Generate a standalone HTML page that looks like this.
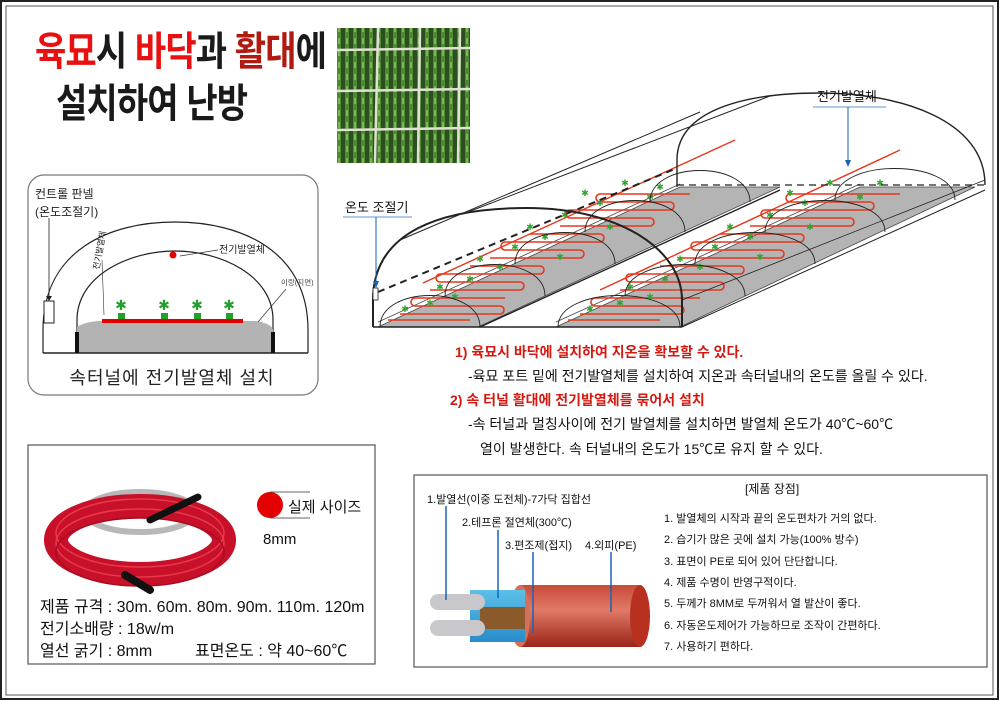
<!DOCTYPE html>
<html><head><meta charset="utf-8">
<style>
body{margin:0;background:#fff;}
#c{position:relative;width:1000px;height:701px;overflow:hidden;background:#fff;font-family:"Liberation Sans","Noto Sans CJK KR",sans-serif;}
.t{position:absolute;white-space:nowrap;}
.ti{transform:scaleX(0.85);transform-origin:0 0;}
</style></head><body><div id="c">
<svg width="1000" height="701" style="position:absolute;left:0;top:0" font-family="Liberation Sans, Noto Sans CJK KR, sans-serif">
<rect x="1" y="1" width="997" height="698" fill="none" stroke="#222" stroke-width="2"/>
<rect x="6" y="6" width="987" height="689" fill="none" stroke="#555" stroke-width="1"/>

<defs>
<pattern id="pl" width="8" height="12" patternUnits="userSpaceOnUse">
<rect width="8" height="12" fill="#2c4f22"/>
<rect x="1" width="4" height="12" fill="#4e8a32"/>
<rect x="2" y="2" width="2" height="6" fill="#7fb455"/>
</pattern>
</defs>
<rect x="337" y="28" width="133" height="135" fill="url(#pl)"/>
<g stroke="#dfe2d2" stroke-width="2.5">
<line x1="337" y1="50" x2="470" y2="48"/><line x1="337" y1="91" x2="470" y2="89"/><line x1="337" y1="130" x2="470" y2="128"/>
<line x1="378" y1="28" x2="375" y2="163"/><line x1="420" y1="28" x2="418" y2="163"/><line x1="460" y1="28" x2="458" y2="163"/>
</g>

<rect x="28" y="175" width="290" height="220" rx="16" fill="#fff" stroke="#777" stroke-width="1.2"/>
<path d="M43,353 L43,330 C43,250 110,222 175,222 C240,222 308,250 308,330 L308,353" fill="none" stroke="#222" stroke-width="1.2"/>
<path d="M77,353 L77,320 C77,275 130,251 175,251 C220,251 273,275 273,320 L273,353" fill="none" stroke="#222" stroke-width="1.2"/>
<path d="M77,353 L77,327 C85,322 95,321 102,321 L255,321 C265,322 273,326 273,330 L273,353 Z" fill="#b3b3b3"/>
<line x1="43" y1="353" x2="308" y2="353" stroke="#222" stroke-width="1.5"/>
<rect x="75" y="332" width="4" height="21" fill="#111"/><rect x="271" y="332" width="4" height="21" fill="#111"/>
<rect x="102" y="319" width="141" height="4" fill="#e30000"/>
<g fill="#22a02a">
<rect x="118" y="313" width="7" height="6"/><rect x="161" y="313" width="7" height="6"/><rect x="194" y="313" width="7" height="6"/><rect x="226" y="313" width="7" height="6"/>
<text x="121" y="310" font-size="14" text-anchor="middle">✱</text><text x="164" y="310" font-size="14" text-anchor="middle">✱</text><text x="197" y="310" font-size="14" text-anchor="middle">✱</text><text x="229" y="310" font-size="14" text-anchor="middle">✱</text>
</g>
<circle cx="173" cy="255" r="3.5" fill="#e30000"/>
<line x1="180" y1="256" x2="218" y2="250" stroke="#333" stroke-width="0.7"/>
<rect x="44" y="301" width="10" height="22" fill="#fff" stroke="#222"/>
<line x1="49" y1="218" x2="49" y2="298" stroke="#222" stroke-width="0.8"/>
<polygon points="46,296 52,296 49,301" fill="#222"/>
<line x1="102" y1="260" x2="104" y2="315" stroke="#333" stroke-width="0.6"/>
<line x1="286" y1="289" x2="258" y2="322" stroke="#333" stroke-width="0.7"/>
<text x="35" y="198" font-size="12" fill="#222">컨트롤 판넬</text>
<text x="35" y="216" font-size="12" fill="#222">(온도조절기)</text>
<text x="219" y="253" font-size="10" fill="#222">전기발열체</text>
<text x="281" y="285" font-size="7.5" fill="#444">이랑(지면)</text>
<text x="0" y="0" font-size="8.5" fill="#222" transform="translate(99,270) rotate(-80)">전기발열체</text>
<text x="172" y="384" font-size="18" fill="#222" text-anchor="middle" letter-spacing="1">속터널에 전기발열체 설치</text>

<polygon points="378,327 478,327 780,187 680,187" fill="#b4b4b4" stroke="#444" stroke-width="0.8"/>
<line x1="378" y1="322" x2="680" y2="184" stroke="#444" stroke-width="0.8"/>
<polygon points="556,327 680,327 975,187 860,187" fill="#b4b4b4" stroke="#444" stroke-width="0.8"/>
<line x1="556" y1="322" x2="860" y2="184" stroke="#444" stroke-width="0.8"/>
<g fill="none" stroke="#e8361a" stroke-width="1.6">
<path d="M388,320 L470,320 M400,314 L500,314 a3,3 0 0 0 0,-8 L415,306 a3,3 0 0 1 0,-8 L505,298"/>
<path d="M430,290 L520,290 a3,3 0 0 0 0,-8 L440,282 a3,3 0 0 1 0,-8 L540,274 a3,3 0 0 0 0,-8 L470,266"/>
<path d="M490,258 L580,258 a3,3 0 0 0 0,-8 L505,250 a3,3 0 0 1 0,-8 L600,242 a3,3 0 0 0 0,-8 L530,234"/>
<path d="M560,226 L650,226 a3,3 0 0 0 0,-8 L570,218 a3,3 0 0 1 0,-8 L670,210 a3,3 0 0 0 0,-8 L600,202 a3,3 0 0 1 0,-8 L690,194"/>
<path d="M568,320 L660,320 M580,314 L680,314 a3,3 0 0 0 0,-8 L595,306 a3,3 0 0 1 0,-8 L700,298"/>
<path d="M620,290 L720,290 a3,3 0 0 0 0,-8 L630,282 a3,3 0 0 1 0,-8 L740,274 a3,3 0 0 0 0,-8 L660,266"/>
<path d="M680,258 L780,258 a3,3 0 0 0 0,-8 L695,250 a3,3 0 0 1 0,-8 L800,242 a3,3 0 0 0 0,-8 L720,234"/>
<path d="M750,226 L850,226 a3,3 0 0 0 0,-8 L765,218 a3,3 0 0 1 0,-8 L870,210 a3,3 0 0 0 0,-8 L790,202 a3,3 0 0 1 0,-8 L900,194"/>
</g>
<line x1="423" y1="283" x2="735" y2="140" stroke="#e8361a" stroke-width="1.4"/>
<line x1="600" y1="290" x2="900" y2="150" stroke="#e8361a" stroke-width="1.4"/>
<g fill="#2aa82a" font-size="9" text-anchor="middle">
<text x="405" y="312">✱</text><text x="430" y="306">✱</text><text x="455" y="300">✱</text><text x="440" y="290">✱</text><text x="470" y="282">✱</text><text x="500" y="270">✱</text><text x="480" y="262">✱</text><text x="515" y="250">✱</text><text x="545" y="240">✱</text><text x="530" y="230">✱</text><text x="565" y="218">✱</text><text x="600" y="206">✱</text><text x="585" y="196">✱</text><text x="625" y="186">✱</text><text x="650" y="200">✱</text><text x="560" y="260">✱</text><text x="610" y="230">✱</text><text x="660" y="190">✱</text>
<text x="590" y="312">✱</text><text x="620" y="306">✱</text><text x="650" y="300">✱</text><text x="630" y="290">✱</text><text x="665" y="282">✱</text><text x="700" y="270">✱</text><text x="680" y="262">✱</text><text x="715" y="250">✱</text><text x="750" y="240">✱</text><text x="730" y="230">✱</text><text x="770" y="218">✱</text><text x="805" y="206">✱</text><text x="790" y="196">✱</text><text x="830" y="186">✱</text><text x="860" y="200">✱</text><text x="760" y="260">✱</text><text x="810" y="230">✱</text><text x="880" y="186">✱</text>
</g>
<g fill="none" stroke="#222" stroke-width="0.9">
<path d="M380,327 C380,285 480,285 480,327"/>
<path d="M445,296 C445,254 545,254 545,296"/>
<path d="M515,264 C515,222 615,222 615,264"/>
<path d="M585,232 C585,190 685,190 685,232"/>
<path d="M650,202 C650,160 750,160 750,202"/>
<path d="M558,327 C558,285 680,285 680,327"/>
<path d="M625,296 C625,254 745,254 745,296"/>
<path d="M695,264 C695,222 815,222 815,264"/>
<path d="M765,232 C765,190 885,190 885,232"/>
<path d="M835,200 C835,158 955,158 955,200"/>
</g>
<g fill="none" stroke="#222">
<path d="M677,187 L677,160 C677,112 740,93 820,93 C900,93 985,120 985,185" stroke-width="1.4"/>
<line x1="400" y1="240" x2="700" y2="112" stroke-width="1"/>
<line x1="468" y1="212" x2="770" y2="96" stroke-width="1"/>
<line x1="682" y1="327" x2="985" y2="190" stroke-width="1"/>
<line x1="480" y1="327" x2="780" y2="190" stroke-width="1.4"/>
<line x1="682" y1="300" x2="985" y2="180" stroke-width="0.8"/>
<line x1="378" y1="292" x2="677" y2="168" stroke-width="2" stroke-dasharray="7,5"/>
<line x1="677" y1="185" x2="985" y2="185" stroke-width="1.2" stroke-dasharray="7,5"/>
<path d="M373,327 L373,300 C373,232 440,208 527,208 C620,208 682,250 682,300 L682,327" stroke-width="2"/>
<line x1="373" y1="327" x2="682" y2="327" stroke-width="1.5"/>
</g>
<rect x="373" y="288" width="5" height="12" fill="#fff" stroke="#222" stroke-width="0.8"/>
<text x="345" y="212" font-size="13" fill="#111">온도 조절기</text>
<line x1="343" y1="217" x2="412" y2="217" stroke="#5a9ad6" stroke-width="1"/>
<line x1="376" y1="217" x2="376" y2="283" stroke="#1a62b8" stroke-width="1"/>
<polygon points="373,281 379,281 376,288" fill="#1a62b8"/>
<text x="817" y="101" font-size="13" fill="#111">전기발열체</text>
<line x1="813" y1="107" x2="886" y2="107" stroke="#5a9ad6" stroke-width="1"/>
<line x1="848" y1="107" x2="848" y2="162" stroke="#1a62b8" stroke-width="1"/>
<polygon points="845,160 851,160 848,167" fill="#1a62b8"/>

<rect x="28" y="445" width="347" height="219" fill="#fff" stroke="#555" stroke-width="1.2"/>
<g fill="none">
<ellipse cx="140" cy="512" rx="55" ry="20" stroke="#b8b8b8" stroke-width="6"/>
<ellipse cx="140" cy="540" rx="84" ry="34" stroke="#c8102a" stroke-width="24"/>
<ellipse cx="140" cy="543" rx="84" ry="34" stroke="#e83a4a" stroke-width="1.5"/>
<ellipse cx="140" cy="533" rx="84" ry="34" stroke="#e83a4a" stroke-width="1.5"/>
<ellipse cx="140" cy="552" rx="84" ry="34" stroke="#a80c20" stroke-width="1.5"/>
</g>
<path d="M150,520 L198,497" stroke="#111" stroke-width="7" stroke-linecap="round"/>
<path d="M125,575 L150,590" stroke="#111" stroke-width="8" stroke-linecap="round"/>
<circle cx="270" cy="505" r="13" fill="#e30000"/>
<line x1="270" y1="492" x2="310" y2="492" stroke="#333" stroke-width="0.7"/>
<line x1="270" y1="518" x2="310" y2="518" stroke="#333" stroke-width="0.7"/>
<text x="288" y="512" font-size="15" fill="#111">실제 사이즈</text>
<text x="263" y="544" font-size="15" fill="#111">8mm</text>
<text x="40" y="612" font-size="16" fill="#111">제품 규격 : 30m. 60m. 80m. 90m. 110m. 120m</text>
<text x="40" y="634" font-size="16" fill="#111">전기소배량 : 18w/m</text>
<text x="40" y="656" font-size="16" fill="#111">열선 굵기 : 8mm</text>
<text x="195" y="656" font-size="16" fill="#111">표면온도  : 약 40~60℃</text>

<rect x="414" y="475" width="573" height="192" fill="#fff" stroke="#555" stroke-width="1.2"/>
<defs>
<linearGradient id="rg" x1="0" y1="0" x2="0" y2="1"><stop offset="0" stop-color="#c84a3a"/><stop offset="0.4" stop-color="#e07a66"/><stop offset="1" stop-color="#9a2418"/></linearGradient>
<linearGradient id="bg" x1="0" y1="0" x2="0" y2="1"><stop offset="0" stop-color="#5cc0ea"/><stop offset="1" stop-color="#2a8cc8"/></linearGradient>
</defs>
<rect x="520" y="585" width="120" height="62" fill="url(#rg)"/>
<ellipse cx="640" cy="616" rx="10" ry="31" fill="#b83020"/>
<ellipse cx="520" cy="616" rx="10" ry="31" fill="#d2705c"/>
<rect x="470" y="590" width="55" height="52" fill="url(#bg)"/>
<rect x="480" y="607" width="45" height="22" fill="#8a5a2a"/>
<rect x="430" y="594" width="55" height="16" rx="8" fill="#c8c8cc"/>
<rect x="430" y="620" width="55" height="16" rx="8" fill="#c8c8cc"/>
<g stroke="#1a62b8" stroke-width="1.5">
<line x1="446" y1="506" x2="446" y2="600"/><line x1="498" y1="530" x2="498" y2="598"/><line x1="533" y1="552" x2="533" y2="633"/><line x1="611" y1="552" x2="611" y2="612"/>
</g>
<g font-size="11" fill="#111">
<text x="427" y="503">1.발열선(이중 도전체)-7가닥 집합선</text>
<text x="462" y="526">2.테프론 절연체(300℃)</text>
<text x="505" y="549">3.편조제(접지)</text>
<text x="585" y="549">4.외피(PE)</text>
<text x="745" y="493" font-size="12">[제품 장점]</text>
<text x="664" y="522">1. 발열체의 시작과 끝의 온도편차가 거의 없다.</text>
<text x="664" y="543">2. 습기가 많은 곳에 설치 가능(100% 방수)</text>
<text x="664" y="565">3. 표면이 PE로 되어 있어 단단합니다.</text>
<text x="664" y="586">4. 제품 수명이 반영구적이다.</text>
<text x="664" y="607">5. 두께가 8MM로 두꺼워서 열 발산이 좋다.</text>
<text x="664" y="629">6. 자동온도제어가 가능하므로 조작이 간편하다.</text>
<text x="664" y="650">7. 사용하기 편하다.</text>
</g>
</svg>

<div class="t ti" style="left:35px;top:28px;font-size:40px;font-weight:bold;line-height:48px;letter-spacing:-1px;"><span style="color:#e81010">육묘</span><span style="color:#1a1a1a">시 </span><span style="color:#e81010">바닥</span><span style="color:#1a1a1a">과 </span><span style="color:#b01a10">활대</span><span style="color:#1a1a1a">에</span></div>
<div class="t ti" style="left:56px;top:80px;font-size:40px;font-weight:bold;line-height:48px;color:#1a1a1a;letter-spacing:-1px;">설치하여 난방</div>

<div class="t" style="left:455px;top:342px;font-size:14px;font-weight:bold;color:#d41a10;">1) 육묘시 바닥에 설치하여 지온을 확보할 수 있다.</div>
<div class="t" style="left:468px;top:366px;font-size:14px;color:#111;">-육묘 포트 밑에 전기발열체를 설치하여 지온과 속터널내의 온도를 올릴 수 있다.</div>
<div class="t" style="left:450px;top:390px;font-size:14px;font-weight:bold;color:#d41a10;">2) 속 터널 활대에 전기발열체를 묶어서 설치</div>
<div class="t" style="left:468px;top:414px;font-size:14px;color:#111;">-속 터널과 멀칭사이에 전기 발열체를 설치하면 발열체 온도가 40℃~60℃</div>
<div class="t" style="left:480px;top:439px;font-size:14px;color:#111;">열이 발생한다. 속 터널내의 온도가 15℃로 유지 할 수 있다.</div>
</div></body></html>
